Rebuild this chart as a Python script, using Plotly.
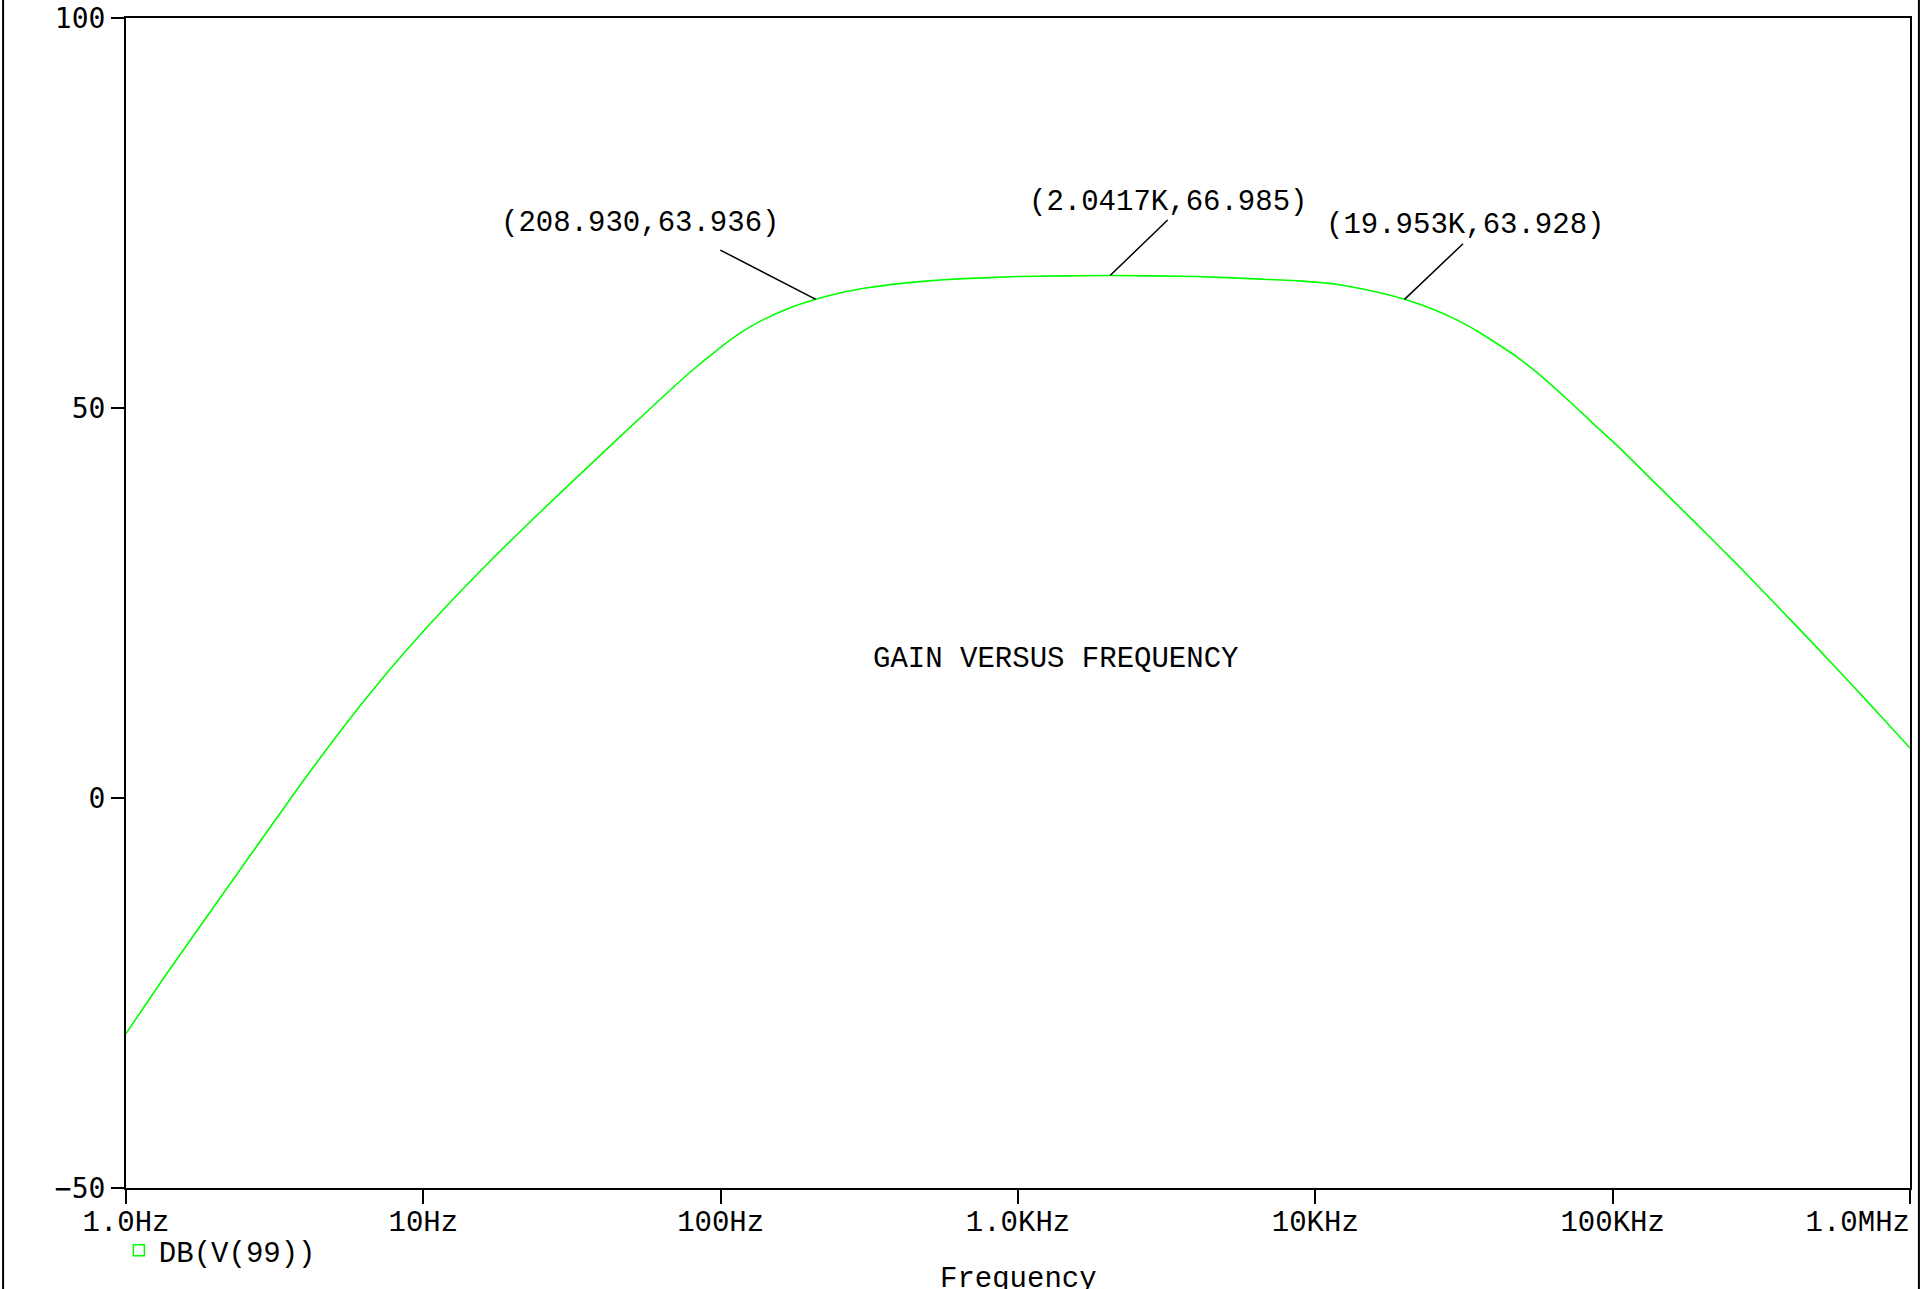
import math
import plotly.graph_objects as go

# ---------------- data ----------------
freq_hz = [1.0, 1.36, 1.945, 2.773, 3.963, 5.649, 8.054, 11.51, 16.41, 23.44, 33.42,
           47.64, 68.08, 81.28, 97.05, 116.1, 138.7, 169.8, 208.93, 251.8, 316.2,
           398.1, 501.2, 631.0, 1000.0, 2041.7, 4000.0, 6310.0, 8870.0, 12050.0,
           16370.0, 19953.0, 25120.0, 30270.0, 35240.0, 41020.0, 47860.0, 55850.0,
           65010.0, 75690.0, 88000.0, 102800.0, 139600.0, 189700.0, 258200.0, 349900.0,
           475300.0, 645700.0, 800000.0, 1000000.0]
gain_db = [-30.2, -22.7, -14.3, -6.0, 2.3, 10.1, 17.3, 23.9, 30.0, 35.8, 41.4,
           46.9, 52.4, 55.0, 57.4, 59.6, 61.3, 62.8, 63.936, 64.75, 65.45,
           65.95, 66.3, 66.55, 66.85, 66.985, 66.85, 66.55, 66.3, 65.8,
           64.8, 63.928, 62.6, 61.2, 59.8, 58.2, 56.5, 54.5,
           52.3, 50.0, 47.65, 45.3, 40.3, 35.3, 30.2, 25.0,
           19.7, 14.3, 10.45, 6.4]

x_tick_vals = [1, 10, 100, 1e3, 1e4, 1e5, 1e6]
x_tick_text = ["1.0Hz", "10Hz", "100Hz", "1.0KHz", "10KHz", "100KHz", "1.0MHz"]
y_tick_vals = [-50, 0, 50, 100]
y_tick_text = ["\u221250", "0", "50", "100"]

cursor_freq = [208.93, 2041.7, 19953.0]
cursor_db = [63.936, 66.985, 63.928]
cursor_text = ["(208.930,63.936)", "(2.0417K,66.985)", "(19.953K,63.928)"]

series_name = "DB(V(99))"
plot_label = "GAIN VERSUS FREQUENCY"
plot_label_pos = (1332.0, 17.8)
x_title = "Frequency"

# ---------------- styling ----------------
MONO = "Liberation Mono, Courier New, monospace"
YFONT = "DejaVu Sans Mono, monospace"
GREEN = "#00ff00"
FS = 29
# leader line pixel offsets (dx, dy up) and label shifts
leader_offsets = [(-97, 50), (59, 57), (60, 57)]
label_shifts = [(-176, 76), (58, 73), (60, 74)]

# the right-most tick label sits left of its tick (padded with no-break spaces)
x_tick_show = list(x_tick_text)
x_tick_show[-1] = x_tick_show[-1] + "\u00a0" * len(x_tick_show[-1])

fig = go.Figure()
fig.add_trace(go.Scatter(
    x=freq_hz, y=gain_db, mode="lines",
    line=dict(color=GREEN, width=1.6, shape="spline", smoothing=0.5),
    showlegend=False, hoverinfo="x+y",
))
# legend entry (square marker like the probe legend)
fig.add_trace(go.Scatter(
    x=[None], y=[None], mode="markers", name=series_name,
    marker=dict(symbol="square-open", color=GREEN, size=11, line=dict(width=1.5, color=GREEN)),
    showlegend=True,
))

shapes = []
annotations = []
for f, d, txt, (dx, dy), (sx, sy) in zip(cursor_freq, cursor_db, cursor_text,
                                          leader_offsets, label_shifts):
    # leader line: arrow-only annotation
    annotations.append(dict(
        x=math.log10(f), y=d, xref="x", yref="y", text="",
        showarrow=True, arrowhead=0, arrowwidth=1.5, arrowcolor="black",
        ax=dx, ay=-dy, axref="pixel", ayref="pixel", standoff=0, startstandoff=0,
    ))
    annotations.append(dict(
        x=math.log10(f), y=d, xref="x", yref="y", text=txt, showarrow=False,
        xshift=sx, yshift=sy, font=dict(family=MONO, size=FS, color="black"),
        xanchor="center", yanchor="middle",
    ))

annotations.append(dict(
    x=math.log10(plot_label_pos[0]), y=plot_label_pos[1], xref="x", yref="y",
    text=plot_label, showarrow=False,
    font=dict(family=MONO, size=FS, color="black"),
    xanchor="center", yanchor="middle",
))

# x-axis title (partly below the page edge, as in the reference)
annotations.append(dict(
    x=0.5, y=-0.062, xref="paper", yref="paper", text=x_title, showarrow=False,
    font=dict(family=MONO, size=FS, color="black"),
    xanchor="center", yanchor="top",
))

# outer frame of the page
shapes.append(dict(
    type="rect", xref="paper", yref="paper",
    x0=-0.0689, x1=1.0050, y0=-0.3, y1=1.2,
    line=dict(color="black", width=2), fillcolor="rgba(0,0,0,0)", layer="above",
))

fig.update_layout(
    width=1923, height=1289,
    margin=dict(l=126, r=13, t=18, b=101, autoexpand=False),
    paper_bgcolor="white", plot_bgcolor="white",
    shapes=shapes, annotations=annotations,
    showlegend=True,
    legend=dict(x=-0.004, xanchor="left", y=-0.0316, yanchor="top",
                font=dict(family=MONO, size=FS, color="black"),
                bgcolor="rgba(0,0,0,0)", borderwidth=0),
    xaxis=dict(
        type="log", range=[0, 6.0001],
        tickmode="array", tickvals=x_tick_vals, ticktext=x_tick_show,
        ticks="outside", ticklen=14, tickwidth=2, tickcolor="black",
        tickfont=dict(family=MONO, size=FS, color="black"),
        ticklabeloverflow="allow", ticklabelstandoff=-8,
        showline=True, linecolor="black", linewidth=2, mirror=True,
        showgrid=False, zeroline=False,
    ),
    yaxis=dict(
        range=[-50, 100],
        tickmode="array", tickvals=y_tick_vals, ticktext=y_tick_text,
        ticks="outside", ticklen=13, tickwidth=2, tickcolor="black",
        tickfont=dict(family=YFONT, size=28, color="black"),
        showline=True, linecolor="black", linewidth=2, mirror=True,
        showgrid=False, zeroline=False,
    ),
)

fig.write_html("out.html", config={"displayModeBar": False},
               post_script="document.body.style.margin='0';")
